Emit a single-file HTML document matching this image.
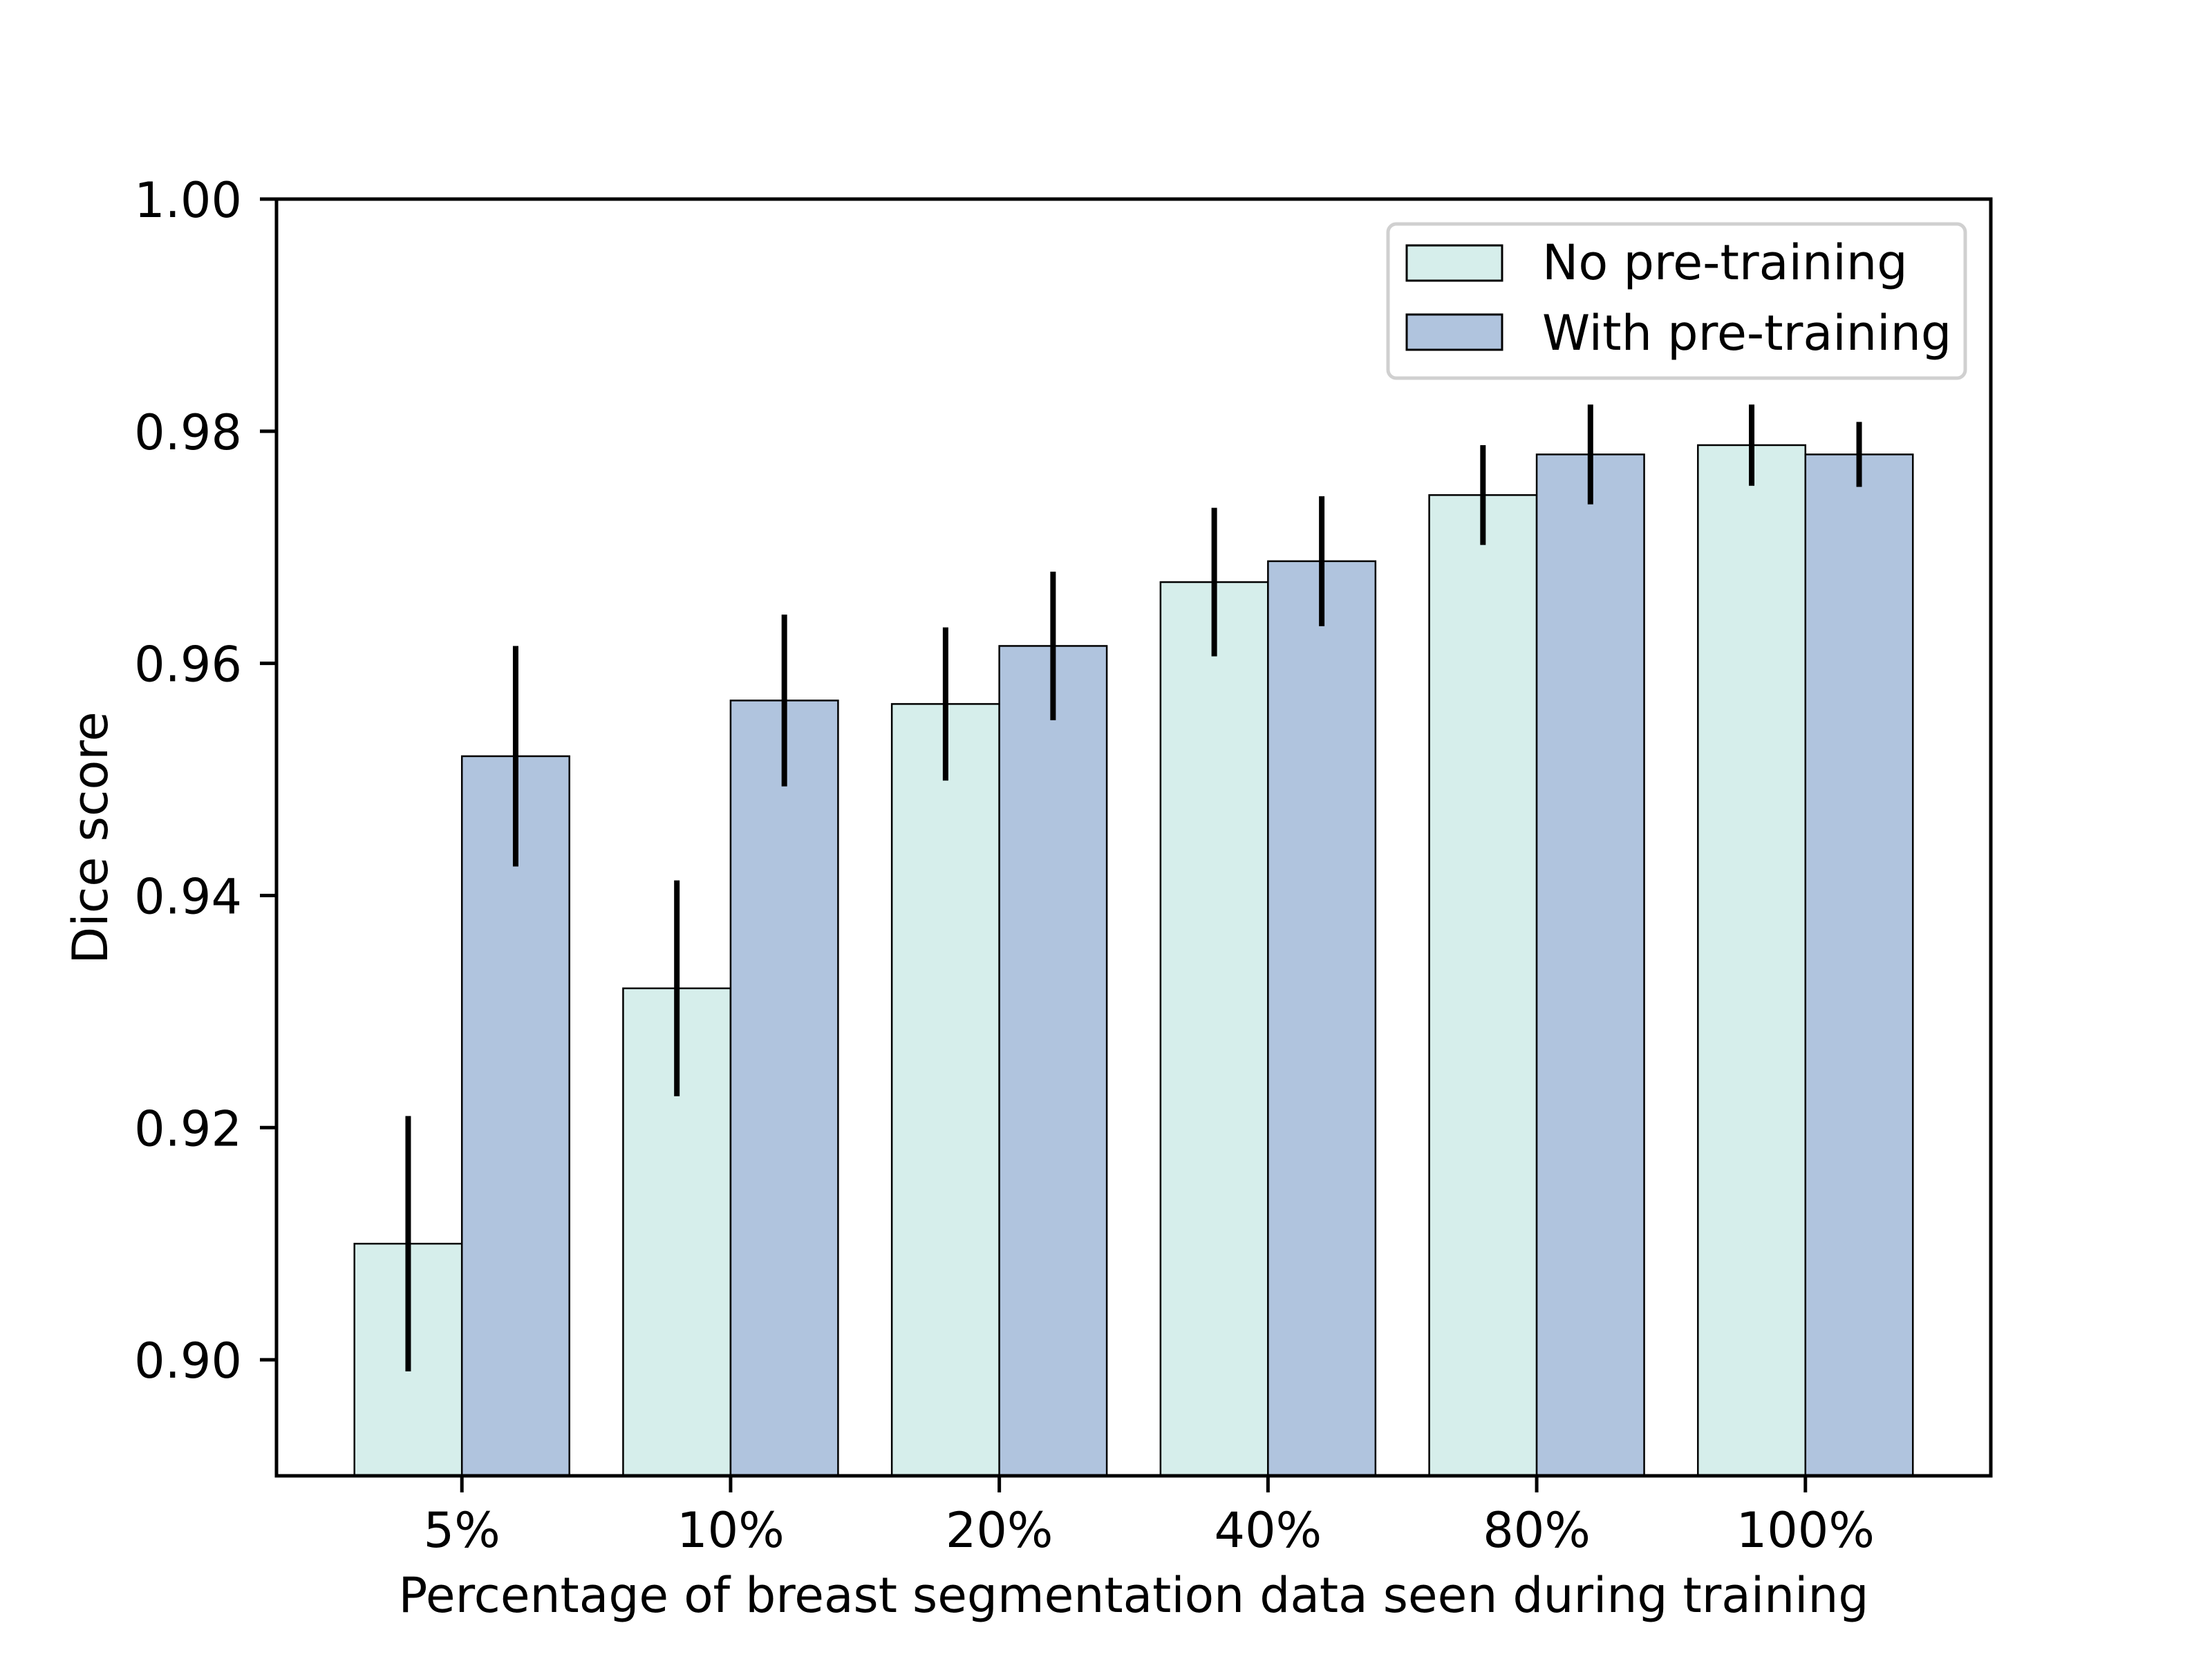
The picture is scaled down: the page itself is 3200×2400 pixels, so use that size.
<!DOCTYPE html>
<html><head><meta charset="utf-8"><style>
html,body{margin:0;padding:0;background:#fff;}
svg{display:block;font-family:"DejaVu Sans","Liberation Sans",sans-serif;}
</style></head><body>
<svg id="chart" width="3200" height="2400" viewBox="0 0 3200 2400" xmlns="http://www.w3.org/2000/svg">
<rect width="3200" height="2400" fill="#fff"/>
<g id="bars"></g>
<g id="errs"></g>
<rect x="400" y="288" width="2480" height="1847" fill="none" stroke="#000" stroke-width="5"/>
<g id="ticks"></g>
<text x="1640" y="2332" font-size="70" text-anchor="middle" textLength="2127" lengthAdjust="spacingAndGlyphs">Percentage of breast segmentation data seen during training</text>
<text transform="translate(155,1212) rotate(-90)" font-size="70" text-anchor="middle">Dice score</text>
<g>
<rect x="2008" y="324" width="835" height="223" rx="12" fill="#fff" fill-opacity="0.8" stroke="#d0d0d0" stroke-width="5"/>
<g>
<rect x="2035" y="355" width="138" height="51" fill="#d6eeeb" stroke="#000" stroke-width="3"/>
<text x="2231" y="404" font-size="70">No pre-training</text></g>
<g>
<rect x="2035" y="455" width="138" height="51" fill="#b0c4de" stroke="#000" stroke-width="3"/>
<text x="2231" y="506" font-size="70">With pre-training</text></g>
</g>
</svg>
<script>
const categories = ["5%","10%","20%","40%","80%","100%"];
const noPre = [0.910,0.932,0.9565,0.967,0.9745,0.9788];
const noPreErr = [0.011,0.0093,0.0066,0.0064,0.0043,0.0035];
const withPre = [0.952,0.9568,0.9615,0.9688,0.978,0.978];
const withPreErr = [0.0095,0.0074,0.0064,0.0056,0.0043,0.0028];
const yTicks = [0.90,0.92,0.94,0.96,0.98,1.00];
const yTickLabels = ["0.90","0.92","0.94","0.96","0.98","1.00"];

const L=400,R=2880,T=288,B=2135,yMin=0.89,yMax=1.0,xMin=-0.69,xMax=5.69;
const sx=v=>L+(v-xMin)/(xMax-xMin)*(R-L);
const sy=v=>B-(v-yMin)/(yMax-yMin)*(B-T);
const NS="http://www.w3.org/2000/svg";
function mk(tag,attrs,parent){const e=document.createElementNS(NS,tag);for(const k in attrs)e.setAttribute(k,attrs[k]);parent.appendChild(e);return e;}
const bars=document.getElementById('bars'),errs=document.getElementById('errs'),ticks=document.getElementById('ticks');
const series=[[noPre,noPreErr,"#d6eeeb",-0.2,"no-pretraining"],[withPre,withPreErr,"#b0c4de",0.2,"with-pretraining"]];
series.forEach(([vals,es,col,off,nm])=>{
  vals.forEach((v,i)=>{
    const x0=sx(i+off-0.2),x1=sx(i+off+0.2);
    const r=mk('rect',{x:x0,y:sy(v),width:x1-x0,height:B-sy(v),fill:col,stroke:'#000','stroke-width':2.5},bars);
    
    
    const cx=sx(i+off);
    const l=mk('line',{x1:cx,x2:cx,y1:sy(v-es[i]),y2:sy(v+es[i]),stroke:'#000','stroke-width':8},errs);
    
    
  });
});
categories.forEach((c,i)=>{
  const x=sx(i);
  const t=mk('line',{x1:x,x2:x,y1:B,y2:B+24,stroke:'#000','stroke-width':5},ticks);
  
  
  const tx=mk('text',{x:x,y:2238,'font-size':70,'text-anchor':'middle'},ticks);
  tx.textContent=c;
  
  
});
yTicks.forEach((v,i)=>{
  const y=sy(v);
  const t=mk('line',{x1:L-24,x2:L,y1:y,y2:y,stroke:'#000','stroke-width':5},ticks);
  
  
  const tx=mk('text',{x:350,y:y+26,'font-size':70,'text-anchor':'end'},ticks);
  tx.textContent=yTickLabels[i];
  
  
});
</script>
</body></html>
